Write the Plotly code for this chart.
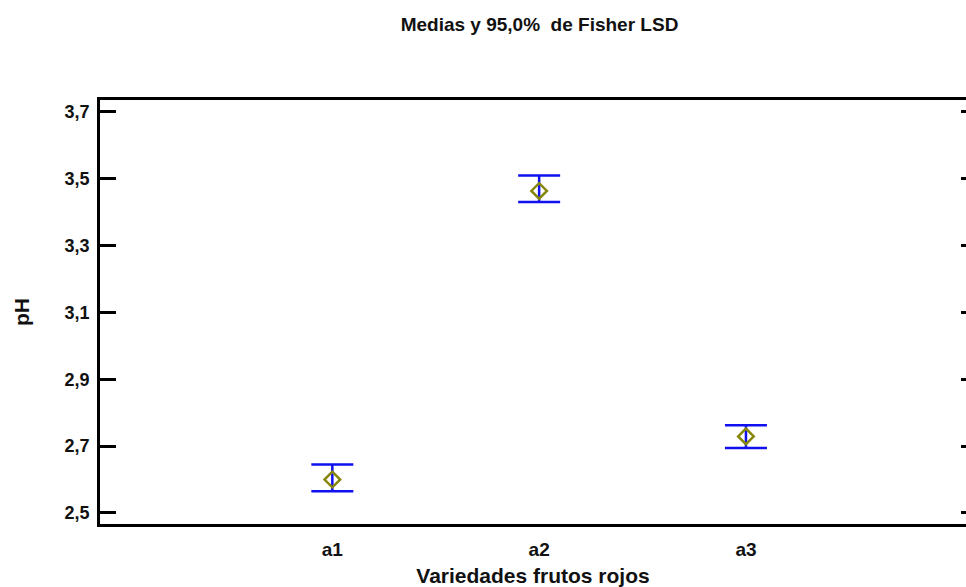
import plotly.graph_objects as go

# Means and 95% Fisher LSD intervals of pH per berry variety
categories = ["a1", "a2", "a3"]
means = [2.600, 3.463, 2.729]
lower = [2.565, 3.430, 2.694]
upper = [2.645, 3.509, 2.762]

y_ticks = [2.5, 2.7, 2.9, 3.1, 3.3, 3.5, 3.7]

xpos = list(range(1, len(categories) + 1))
err_plus = [u - m for u, m in zip(upper, means)]
err_minus = [m - l for m, l in zip(means, lower)]

FONT = "Liberation Sans"
INK = "#111111"
BLUE = "#1010F0"
OLIVE = "#86860A"

fig = go.Figure()
fig.add_trace(go.Scatter(
    x=xpos,
    y=means,
    mode="markers",
    marker=dict(symbol="diamond-open", size=12, color=OLIVE,
                line=dict(width=2.5, color=OLIVE)),
    error_y=dict(type="data", symmetric=False, array=err_plus,
                 arrayminus=err_minus, color=BLUE, thickness=2.5, width=21),
    showlegend=False,
    hoverinfo="skip",
))
# invisible trace to attach the right-hand tick axis
fig.add_trace(go.Scatter(x=[xpos[0]], y=[means[0]], yaxis="y2",
                         mode="markers", marker=dict(opacity=0),
                         showlegend=False, hoverinfo="skip"))

fig.update_layout(
    width=966,
    height=587,
    margin=dict(l=100, r=0, t=100, b=63),
    paper_bgcolor="white",
    plot_bgcolor="white",
    separators=",.",
    font=dict(family=FONT, color=INK),
    title=dict(text="Medias y 95,0%  de Fisher LSD",
               font=dict(family=FONT, size=19, weight="bold", color=INK),
               xref="container", x=539.5 / 966, xanchor="center",
               yref="container", y=1 - 24 / 587, yanchor="middle"),
    xaxis=dict(
        range=[-0.1234, 4.064],
        tickvals=xpos,
        ticktext=categories,
        ticks="",
        showgrid=False,
        zeroline=False,
        showline=True,
        linecolor="black",
        linewidth=2.5,
        mirror=True,
        tickfont=dict(family=FONT, size=19, weight="bold", color=INK),
        ticklabelstandoff=6,
        title=dict(text="Variedades frutos rojos", standoff=10,
                   font=dict(family=FONT, size=21, weight="bold", color=INK)),
        automargin=False,
    ),
    yaxis=dict(
        range=[2.467, 3.735],
        tickvals=y_ticks,
        tickformat=".1f",
        ticks="inside",
        ticklen=16,
        tickwidth=2.5,
        tickcolor="black",
        showgrid=False,
        zeroline=False,
        showline=True,
        linecolor="black",
        linewidth=2.5,
        tickfont=dict(family=FONT, size=18, weight="bold", color=INK),
        ticklabelstandoff=4,
        title=dict(text="pH", standoff=30,
                   font=dict(family=FONT, size=21, weight="bold", color=INK)),
        automargin=False,
    ),
    yaxis2=dict(
        overlaying="y",
        side="right",
        range=[2.467, 3.735],
        tickvals=y_ticks,
        ticks="inside",
        ticklen=5,
        tickwidth=2.5,
        tickcolor="black",
        showticklabels=False,
        showgrid=False,
        zeroline=False,
        showline=False,
    ),
)

fig.write_html("out.html")
